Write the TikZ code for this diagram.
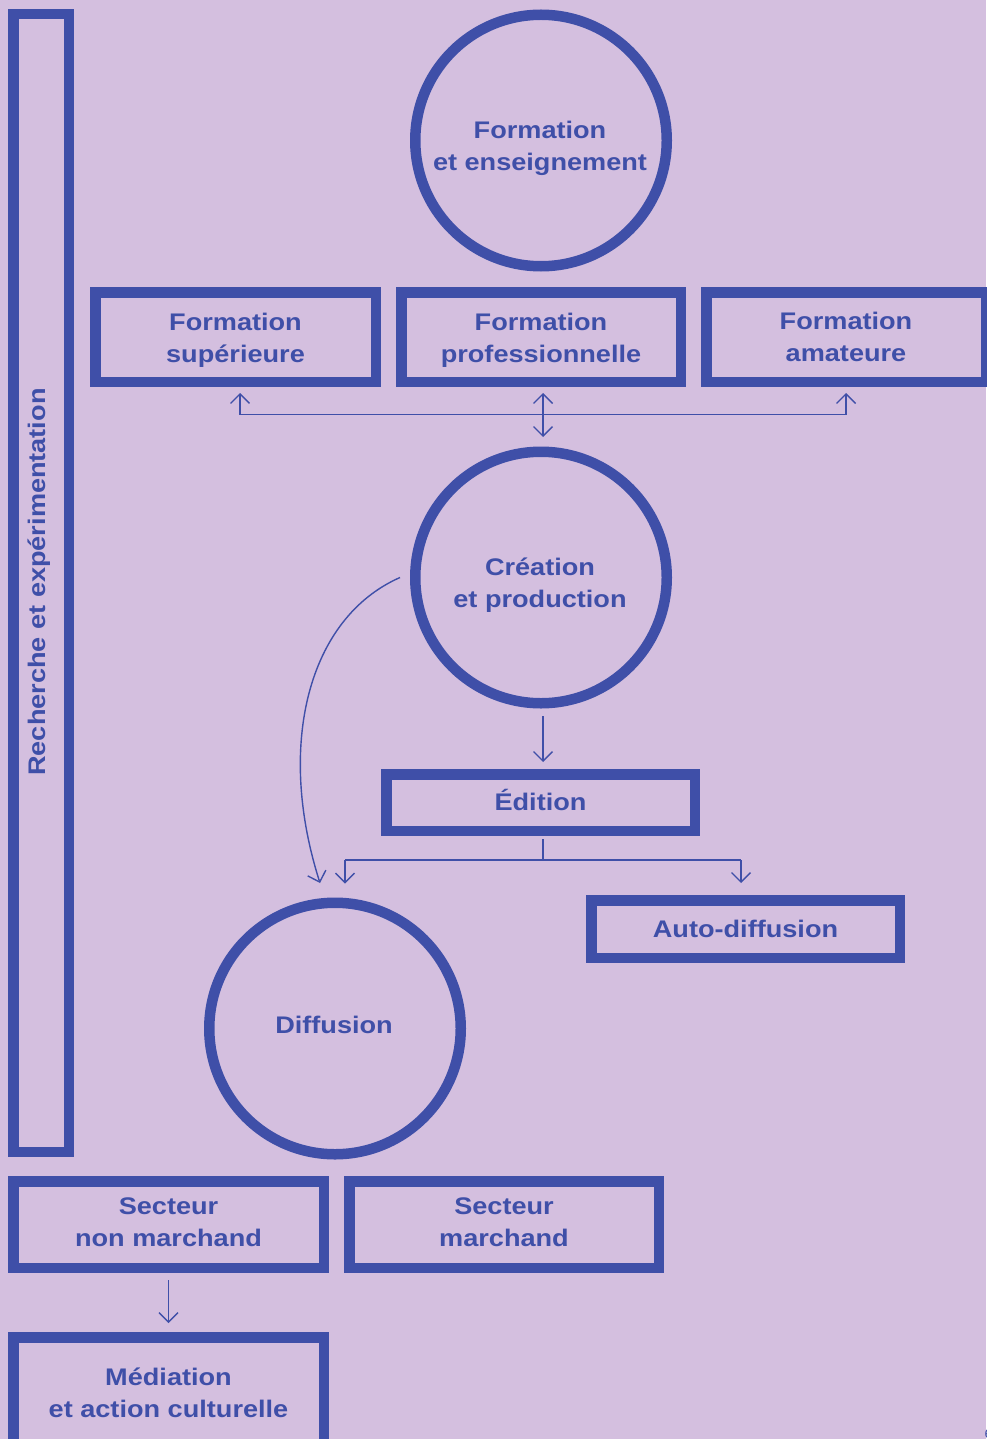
\documentclass[tikz,border=0pt]{standalone}
\usepackage{fontspec}
\setmainfont{Liberation Sans}[FakeStretch=1.13]
\usetikzlibrary{arrows.meta}
\definecolor{bg}{RGB}{212,191,223}
\definecolor{blu}{RGB}{63,79,168}
\tikzset{
  txt/.style={text=blu, font={\fontsize{24}{32}\selectfont\bfseries}, align=center},
  ring/.style={circle, draw=blu, line width=10.5pt, minimum size=251.5pt, inner sep=0pt},
  frame/.style={rectangle, draw=blu, line width=10.5pt, inner sep=0pt},
  ln/.style={draw=blu, line width=1.4pt},
  arr/.style={ln, -{Straight Barb[length=9.5pt,width=19pt]}},
  darr/.style={ln, {Straight Barb[length=9.5pt,width=19pt]}-{Straight Barb[length=9.5pt,width=19pt]}}
}
\begin{document}
\begin{tikzpicture}[x=1pt,y=-1pt]
\useasboundingbox (0,0) rectangle (986,1439);
\fill[bg] (0,0) rectangle (986,1439);
% vertical bar
\node[frame, minimum width=55.5pt, minimum height=1137.5pt] (RB) at (41,583) {};
\node[txt, rotate=90] (RT) at (39,582) {Recherche et expérimentation};
% circles
\node[ring] (FE) at (541,140.5) {};
\node[txt] (FEt) at (540,148.5) {Formation\\et enseignement};
\node[ring] (CP) at (541,577.5) {};
\node[txt] (CPt) at (540,585.5) {Création\\et production};
\node[ring] (DF) at (335,1028.5) {};
\node[txt] (DFt) at (334,1024.5) {Diffusion};
% formation boxes
\node[frame, minimum width=280.5pt, minimum height=89.5pt] (FS) at (235.5,337) {};
\node[txt] (FSt) at (235.5,340) {Formation\\supérieure};
\node[frame, minimum width=279.5pt, minimum height=89.5pt] (FP) at (541,337) {};
\node[txt] (FPt) at (541,340) {Formation\\professionnelle};
\node[frame, minimum width=279.5pt, minimum height=89.5pt] (FA) at (846,337) {};
\node[txt] (FAt) at (846,337) {Formation\\amateure};
% edition etc
\node[frame, minimum width=308.5pt, minimum height=56.5pt] (ED) at (540.5,802.5) {};
\node[txt] (EDt) at (540.5,799.5) {Édition};
\node[frame, minimum width=308.5pt, minimum height=57.5pt] (AD) at (745.5,929) {};
\node[txt] (ADt) at (745.5,929) {Auto-diffusion};
\node[frame, minimum width=310.5pt, minimum height=86.5pt] (SN) at (168.5,1224.5) {};
\node[txt] (SNt) at (168.5,1222.5) {Secteur\\non marchand};
\node[frame, minimum width=309.5pt, minimum height=86.5pt] (SM) at (504,1224.5) {};
\node[txt] (SMt) at (504,1222.5) {Secteur\\marchand};
\node[frame, minimum width=310.5pt, minimum height=115.5pt] (MD) at (168.5,1395) {};
\node[txt] (MDt) at (168.5,1393) {Médiation\\et action culturelle};
\node[text=blu, font=\fontsize{13}{13}\selectfont, anchor=west] (PG) at (981,1434) {6};
% top connectors
\coordinate (jL) at (240,414.5);
\coordinate (jM) at (543,414.5);
\coordinate (jR) at (846,414.5);
\draw[ln] (jL) -- (jR);
\draw[arr, shorten >=6pt] (jL) -- (jL |- FS.south);
\draw[arr, shorten >=6pt] (jR) -- (jR |- FA.south);
\draw[darr, shorten <=6pt, shorten >=9.5pt] (FP.south -| jM) -- (CP.north -| jM);
% creation -> edition
\draw[arr, shorten <=7.5pt, shorten >=7pt] (CP.south -| jM) -- (ED.north -| jM);
% branch
\coordinate (bL) at (345,860);
\coordinate (bM) at (543,860);
\coordinate (bR) at (741,860);
\draw[ln] ([yshift=-3pt]ED.south -| bM) -- (bM);
\draw[ln] (bL) -- (bR);
\draw[arr, shorten >=14pt] (bL) -- (bL |- DF.north);
\draw[arr, shorten >=12pt] (bR) -- (bR |- AD.north);
% curved arrow
\coordinate (cE) at (320,883);
\draw[arr] ([xshift=-10pt]CP.west) .. controls (308,618) and (276,745) .. (cE);
% secteur -> mediation
\draw[arr, shorten <=7pt, shorten >=9pt] (SN.south) -- (MD.north);
\end{tikzpicture}
\end{document}
